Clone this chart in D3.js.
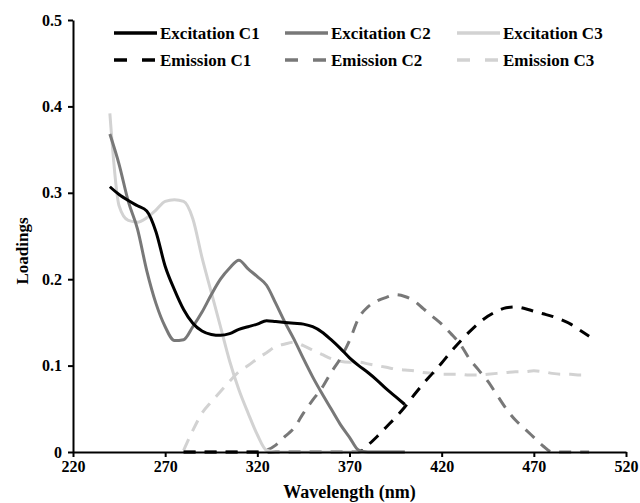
<!DOCTYPE html>
<html>
<head>
<meta charset="utf-8">
<script src="https://cdn.jsdelivr.net/npm/d3@7"></script>
<style>
  body { margin: 0; background: #fff; }
  svg text { font-family: "Liberation Serif", "Times New Roman", serif; font-weight: bold; fill: #000; }
</style>
</head>
<body>
<svg width="640" height="503"></svg>
<script>
// excitation spectra, 240-400 nm
const exWavelengths = d3.range(240, 401, 5);
const excitationC1 = [0.307, 0.298, 0.291, 0.285, 0.279, 0.255, 0.215, 0.188, 0.165, 0.149, 0.140, 0.136, 0.135, 0.137, 0.142, 0.145,
  0.148, 0.152, 0.151, 0.150, 0.149, 0.148, 0.145, 0.139, 0.130, 0.120, 0.109, 0.100, 0.092, 0.083, 0.073, 0.064, 0.055];
const excitationC2 = [0.368, 0.333, 0.290, 0.258, 0.210, 0.172, 0.145, 0.129, 0.130, 0.145, 0.162, 0.182, 0.200, 0.213, 0.222, 0.212,
  0.203, 0.193, 0.172, 0.150, 0.130, 0.108, 0.087, 0.068, 0.050, 0.032, 0.017, 0.002, 0, 0, 0, 0, 0];
const excitationC3 = [0.392, 0.285, 0.268, 0.266, 0.271, 0.280, 0.290, 0.292, 0.290, 0.270, 0.225, 0.185, 0.145, 0.105, 0.072, 0.045,
  0.020, 0.002, 0, 0, 0, 0, 0, 0, 0, 0, 0, 0, 0, 0, 0, 0, 0];

// emission spectra, 280-500 nm
const emWavelengths = d3.range(280, 501, 5);
const emissionC1 = [0, 0, 0, 0, 0, 0, 0, 0, 0, 0, 0, 0, 0, 0, 0, 0, 0, 0, 0, 0,
  0.008, 0.018, 0.029, 0.040, 0.052, 0.066, 0.079, 0.091, 0.103, 0.116, 0.128, 0.139, 0.149, 0.157, 0.163, 0.167,
  0.168, 0.166, 0.163, 0.160, 0.157, 0.153, 0.148, 0.141, 0.134];
const emissionC2 = [0, 0, 0, 0, 0, 0, 0, 0, 0, 0.002, 0.008, 0.018, 0.028, 0.045, 0.060, 0.074, 0.092, 0.108, 0.129, 0.155,
  0.168, 0.175, 0.179, 0.182, 0.180, 0.175, 0.166, 0.157, 0.148, 0.137, 0.125, 0.108, 0.095, 0.082, 0.066, 0.050,
  0.037, 0.027, 0.017, 0.007, 0, 0, 0, 0, 0];
const emissionC3 = [0.002, 0.025, 0.045, 0.058, 0.070, 0.082, 0.093, 0.100, 0.108, 0.115, 0.122, 0.125, 0.127, 0.123, 0.118, 0.113,
  0.108, 0.105, 0.104, 0.104, 0.102, 0.100, 0.098, 0.096, 0.095, 0.094, 0.092, 0.091, 0.090, 0.090, 0.090, 0.089,
  0.089, 0.090, 0.091, 0.092, 0.093, 0.093, 0.094, 0.093, 0.091, 0.090, 0.090, 0.089, 0.089];

const xTicks = [220, 270, 320, 370, 420, 470, 520];
const yTicks = [0, 0.1, 0.2, 0.3, 0.4, 0.5];

const series = [
  { name: 'Excitation C1', x: exWavelengths, y: excitationC1, color: '#000000', dashed: false },
  { name: 'Excitation C2', x: exWavelengths, y: excitationC2, color: '#787878', dashed: false },
  { name: 'Excitation C3', x: exWavelengths, y: excitationC3, color: '#d2d2d2', dashed: false },
  { name: 'Emission C1', x: emWavelengths, y: emissionC1, color: '#000000', dashed: true },
  { name: 'Emission C2', x: emWavelengths, y: emissionC2, color: '#787878', dashed: true },
  { name: 'Emission C3', x: emWavelengths, y: emissionC3, color: '#d2d2d2', dashed: true }
];

const svg = d3.select('svg');
const margin = { left: 73, right: 14, top: 20, bottom: 51 };
const width = 640, height = 503;

const x = d3.scaleLinear().domain([220, 520]).range([margin.left, width - margin.right]);
const y = d3.scaleLinear().domain([0, 0.5]).range([height - margin.bottom, margin.top]);

// series (drawn first so the axes sit on top)
const line = d3.line().x(d => x(d[0])).y(d => y(d[1])).curve(d3.curveMonotoneX);
const order = [5, 4, 3, 2, 1, 0];
order.forEach(i => {
  const s = series[i];
  svg.append('path')
    .datum(s.x.map((w, k) => [w, s.y[k]]))
    .attr('d', line)
    .attr('fill', 'none')
    .attr('stroke', s.color)
    .attr('stroke-width', 3)
    .attr('stroke-linejoin', 'round')
    .attr('stroke-dasharray', s.dashed ? '12,9' : null);
});

// axes
const xAxis = svg.append('g')
  .attr('transform', `translate(0, ${y(0)})`)
  .call(d3.axisBottom(x).tickValues(xTicks).tickSize(5).tickSizeOuter(0).tickPadding(4));
const yAxis = svg.append('g')
  .attr('transform', `translate(${x(220)}, 0)`)
  .call(d3.axisLeft(y).tickValues(yTicks).tickSize(5).tickSizeOuter(0).tickPadding(6)
    .tickFormat(d => d === 0 ? '0' : d3.format('.1f')(d)));

[xAxis, yAxis].forEach(a => {
  a.select('.domain').attr('stroke', '#000').attr('stroke-width', 2);
  a.selectAll('.tick line').attr('stroke', '#000').attr('stroke-width', 2);
  a.selectAll('.tick text')
    .style('font-family', '"Liberation Serif", serif')
    .style('font-weight', 'bold')
    .style('font-size', '16px')
    .attr('fill', '#000');
});

// axis titles
svg.append('text')
  .attr('x', (x(220) + x(520)) / 2)
  .attr('y', 498)
  .attr('text-anchor', 'middle')
  .style('font-size', '18px')
  .text('Wavelength (nm)');

svg.append('text')
  .attr('transform', 'translate(28, 251) rotate(-90)')
  .attr('text-anchor', 'middle')
  .style('font-size', '17px')
  .text('Loadings');

// legend, 3 columns x 2 rows
const legendX = [114, 285, 457];
const legendY = [33, 60];
series.forEach((s, i) => {
  const col = i % 3, row = Math.floor(i / 3);
  const g = svg.append('g').attr('transform', `translate(${legendX[col]}, ${legendY[row]})`);
  g.append('line')
    .attr('x1', 0).attr('x2', 43)
    .attr('stroke', s.color)
    .attr('stroke-width', 3.5)
    .attr('stroke-dasharray', s.dashed ? '13,15' : null);
  g.append('text')
    .attr('x', 46)
    .attr('dy', '0.35em')
    .style('font-size', '17px')
    .text(s.name);
});
</script>
</body>
</html>
